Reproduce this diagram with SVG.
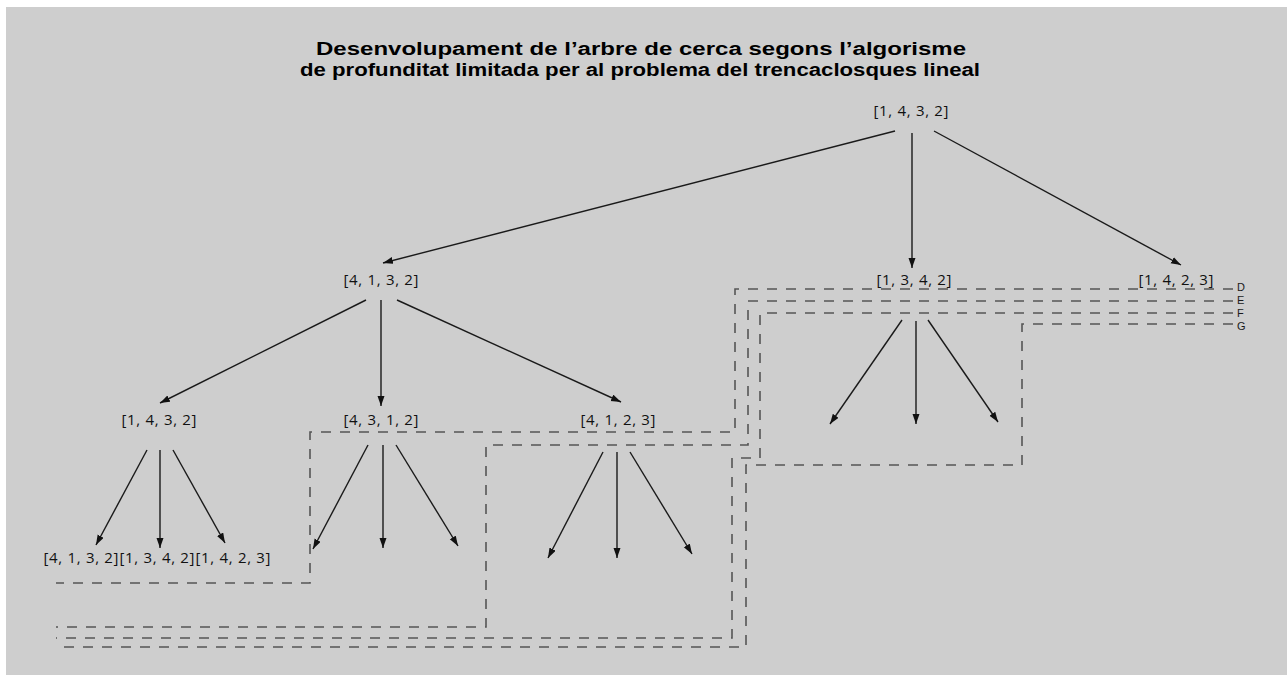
<svg xmlns="http://www.w3.org/2000/svg" width="1287" height="675" viewBox="0 0 1287 675">
  <style>
    .title { font-family: "Liberation Sans", Arial, sans-serif; font-weight: bold; font-size: 18px; fill: #000; text-anchor: middle; }
    .node text { font-family: "Open Sans", "Liberation Sans", sans-serif; font-size: 15px; fill: #111; text-anchor: middle; }
    .edge { stroke: #1a1a1a; stroke-width: 1.4; fill: none; marker-end: url(#arrow); }
    .limit { stroke: #555; stroke-width: 1.6; fill: none; stroke-dasharray: 10 9; }
    .limit-label { font-family: "Liberation Sans", Arial, sans-serif; font-size: 11px; fill: #1a1a1a; }
  </style>
  <defs>
    <marker id="arrow" markerUnits="userSpaceOnUse" markerWidth="11" markerHeight="8" refX="10" refY="3.5" orient="auto">
      <path d="M0,0 L10,3.5 L0,7 z" fill="#111"/>
    </marker>
  </defs>

  <rect x="0" y="0" width="1287" height="675" fill="#ffffff"/>
  <rect x="6" y="7" width="1281" height="668" fill="#cecece"/>

  <g id="title">
    <text class="title" x="641" y="55" textLength="650" lengthAdjust="spacingAndGlyphs">Desenvolupament de l’arbre de cerca segons l’algorisme</text>
    <text class="title" x="640" y="76" textLength="680" lengthAdjust="spacingAndGlyphs">de profunditat limitada per al problema del trencaclosques lineal</text>
  </g>

  <!-- depth-limit contours, one per iteration of the limited-depth search -->
  <g id="limits">
    <path class="limit" d="M1233,289 H735 V432 H310 V583 H56"/>
    <path class="limit" d="M1233,301 H748 V445 H486 V627 H56"/>
    <path class="limit" d="M1233,313 H760 V458 H732 V638 H56"/>
    <path class="limit" d="M1233,324 H1022 V465 H746 V647 H56"/>
    <text class="limit-label" x="1237" y="291">D</text>
    <text class="limit-label" x="1237" y="304">E</text>
    <text class="limit-label" x="1237" y="317">F</text>
    <text class="limit-label" x="1237" y="330">G</text>
  </g>

  <g id="connectors">
    <path class="edge" d="M895,131 L383,263"/>
    <path class="edge" d="M912,133 L912,268"/>
    <path class="edge" d="M934,131 L1181,265"/>

    <path class="edge" d="M366,300 L160,403"/>
    <path class="edge" d="M381,300 L381,406"/>
    <path class="edge" d="M397,300 L621,402"/>

    <path class="edge" d="M902,320 L830,424"/>
    <path class="edge" d="M916,321 L916,424"/>
    <path class="edge" d="M928,320 L998,422"/>

    <path class="edge" d="M147,450 L96,545"/>
    <path class="edge" d="M160,450 L160,548"/>
    <path class="edge" d="M173,450 L225,543"/>

    <path class="edge" d="M368,445 L313,549"/>
    <path class="edge" d="M383,445 L383,548"/>
    <path class="edge" d="M396,445 L458,546"/>

    <path class="edge" d="M603,452 L548,558"/>
    <path class="edge" d="M617,452 L617,558"/>
    <path class="edge" d="M630,452 L692,554"/>
  </g>

  <g id="root" class="node"><text x="911" y="116" textLength="75">[1, 4, 3, 2]</text></g>

  <g id="n-4132" class="node"><text x="381" y="285" textLength="75">[4, 1, 3, 2]</text></g>
  <g id="n-1342" class="node"><text x="914" y="285" textLength="75">[1, 3, 4, 2]</text></g>
  <g id="n-1423" class="node"><text x="1176" y="285" textLength="75">[1, 4, 2, 3]</text></g>

  <g id="n-4132-1432" class="node"><text x="159" y="425" textLength="75">[1, 4, 3, 2]</text></g>
  <g id="n-4132-4312" class="node"><text x="381" y="425" textLength="75">[4, 3, 1, 2]</text></g>
  <g id="n-4132-4123" class="node"><text x="618" y="425" textLength="75">[4, 1, 2, 3]</text></g>

  <g id="n-1432-4132" class="node"><text x="81" y="563" textLength="75">[4, 1, 3, 2]</text></g>
  <g id="n-1432-1342" class="node"><text x="157" y="563" textLength="75">[1, 3, 4, 2]</text></g>
  <g id="n-1432-1423" class="node"><text x="233" y="563" textLength="75">[1, 4, 2, 3]</text></g>
</svg>
